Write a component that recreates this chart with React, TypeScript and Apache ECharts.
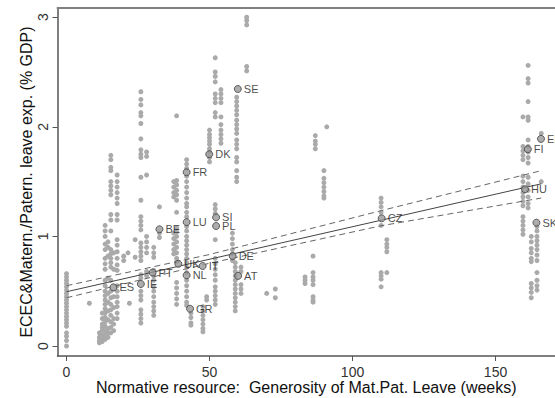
import React, { useEffect, useRef } from "react";
import * as echarts from "echarts";

const xTicks = [0, 50, 100, 150];
const yTicks = [0, 1, 2, 3];

const countryCodes = ["SE", "DK", "FR", "LU", "SI", "PL", "BE", "DE", "AT", "UK", "IT", "NL", "GR", "PT", "ES", "IE", "CZ", "FI", "EE", "HU", "SK"];
const countryX = [59.9, 49.9, 42.0, 42.0, 52.3, 52.3, 32.5, 58.1, 60.0, 39.1, 47.6, 42.0, 43.2, 30.1, 16.4, 26.0, 110.2, 161.3, 165.9, 160.3, 164.3];
const countryY = [2.345, 1.75, 1.585, 1.13, 1.174, 1.095, 1.065, 0.82, 0.64, 0.75, 0.73, 0.645, 0.34, 0.67, 0.535, 0.566, 1.165, 1.795, 1.89, 1.43, 1.125];

const fitX = [0, 166];
const fitY = [0.495, 1.48];
const ciX = [0, 50, 110, 166];
const ciUpper = [0.55, 0.835, 1.235, 1.6];
const ciLower = [0.44, 0.755, 1.097, 1.35];

const dotColumnX = [
  0, 8, 11.5, 12.5, 13.5, 14.5, 15.5, 16.5, 17.7, 20, 21.5, 22, 24,
  26, 28, 30.5, 32.5, 37.5, 38.5, 42, 43.5, 47.7, 49, 50, 52, 54, 58, 59, 59.5, 61, 63,
  70, 73, 83.4, 86.2, 87, 90, 91, 110, 112,
  159.6, 161.4, 162.5, 164.5, 166,
];
const dotColumnY = [
  [0.66, 0.63, 0.6, 0.57, 0.54, 0.51, 0.48, 0.45, 0.42, 0.39, 0.36, 0.33, 0.3, 0.27, 0.24, 0.21, 0.18, 0.12, 0.09, 0.05, 0.0],
  [0.39],
  [0.12, 0.08, 0.05, 0.03],
  [0.3, 0.25, 0.2, 0.17, 0.14, 0.1, 0.07, 0.04],
  [1.1, 1.05, 1.0, 0.93, 0.88, 0.8, 0.75, 0.7, 0.6, 0.55, 0.5, 0.46, 0.42, 0.38, 0.34, 0.3, 0.26, 0.22, 0.18, 0.14, 0.1, 0.06],
  [0.95, 0.9, 0.82, 0.62, 0.48, 0.4, 0.32, 0.24, 0.16, 0.12, 0.08],
  [1.74, 1.7, 1.63, 1.6, 1.5, 1.46, 1.42, 1.38, 1.2, 1.15, 1.05, 0.88, 0.84, 0.8, 0.76, 0.72, 0.6, 0.5, 0.44, 0.38, 0.33, 0.28, 0.22, 0.17, 0.12],
  [0.85, 0.7, 0.45, 0.35, 0.25, 0.2, 0.14],
  [1.56, 1.5, 1.45, 1.4, 1.35, 1.3, 1.2, 1.15, 0.97, 0.92, 0.86, 0.8, 0.74, 0.69, 0.55, 0.5, 0.45, 0.4, 0.36, 0.3, 0.25],
  [0.82, 0.78],
  [0.85],
  [0.39],
  [0.97, 0.81],
  [2.32, 2.25, 2.2, 2.13, 2.1, 2.03, 1.89, 1.79, 1.75, 1.72, 1.54, 1.33, 1.18, 1.14, 1.1, 1.06, 0.94, 0.9, 0.86, 0.82, 0.78, 0.65, 0.62, 0.5, 0.46, 0.42, 0.33, 0.29, 0.25, 0.21],
  [1.77, 1.73, 1.56, 1.0, 0.95, 0.9, 0.85, 0.68, 0.64],
  [0.9, 0.85, 0.81, 0.69, 0.64, 0.6, 0.54, 0.5, 0.45, 0.4, 0.36, 0.32, 0.28],
  [1.27, 1.03, 0.99],
  [1.5, 1.45, 1.4, 1.36, 1.03, 0.98, 0.93, 0.88, 0.84],
  [2.1, 1.51, 1.47, 1.42, 1.38, 1.33, 1.22, 1.08, 1.04, 1.0, 0.95, 0.9, 0.85, 0.8, 0.77, 0.58, 0.53, 0.48, 0.43, 0.38],
  [1.7, 1.66, 1.62, 1.55, 1.5, 1.45, 1.4, 1.35, 1.3, 1.27, 1.22, 1.18, 1.09, 1.05, 1.0, 0.96, 0.92, 0.88, 0.84, 0.8, 0.76, 0.72, 0.67, 0.6, 0.55, 0.5, 0.45, 0.4, 0.37],
  [0.3, 0.26, 0.21, 0.19],
  [0.36, 0.32, 0.28, 0.24, 0.2, 0.16, 0.13],
  [0.45, 0.42],
  [1.97, 1.93, 1.9, 1.87, 1.84, 1.8, 1.77, 1.72, 1.68],
  [2.63, 2.5, 2.46, 2.41, 2.3, 2.26, 2.22, 2.13, 2.09, 1.29, 1.25, 1.21, 0.97, 0.8, 0.75, 0.7, 0.65, 0.6, 0.54, 0.5, 0.46, 0.42, 0.38],
  [2.34, 2.3, 2.26, 2.22, 2.09, 2.02, 1.97, 1.93, 1.89, 1.85],
  [1.03, 0.98, 0.93, 0.88, 0.84, 0.78],
  [0.76, 0.72, 0.68, 0.64, 0.6, 0.56, 0.52, 0.48, 0.44, 0.4, 0.36, 0.32],
  [2.27, 2.23, 2.19, 2.15, 2.11, 2.06, 2.02, 1.98, 1.94, 1.88, 1.84, 1.8, 1.72, 1.68, 1.6, 1.54, 1.5],
  [0.72, 0.68, 0.56, 0.52, 0.48],
  [3.0, 2.97, 2.93, 2.55, 2.51],
  [0.48],
  [0.52, 0.44],
  [0.63, 0.6, 0.57],
  [0.82, 0.67, 0.63, 0.6, 0.56, 0.45, 0.42, 0.4],
  [1.92, 1.87, 1.84, 1.8],
  [1.6, 1.53, 1.49, 1.45, 1.41, 1.37, 1.35],
  [2.0],
  [1.35, 1.31, 1.27, 1.22, 1.1, 0.67, 0.64, 0.61, 0.54],
  [0.97, 0.93, 0.9, 0.86, 0.67],
  [2.09, 1.82, 1.78, 1.74, 1.7, 1.55, 1.5, 1.45, 1.4, 1.36, 1.32, 1.28, 1.18, 1.14, 1.1, 1.06, 1.02],
  [2.56, 2.44, 2.4, 2.23, 2.09, 2.06, 1.88, 1.82, 1.77, 1.72, 1.67, 1.54, 1.48, 1.42, 1.36, 1.3, 1.26],
  [1.0, 0.95, 0.89, 0.85, 0.8, 0.77, 0.57, 0.53, 0.49, 0.44],
  [1.09, 1.05, 1.0, 0.96, 0.92, 0.88, 0.83, 0.78, 0.67, 0.6, 0.55, 0.51],
  [1.94, 1.5],
];

const FONT = "Arial, 'Liberation Sans', sans-serif";

export default function App() {
  const ref = useRef<HTMLDivElement>(null);

  useEffect(() => {
    if (!ref.current) return;
    const chart = echarts.init(ref.current, undefined, { renderer: "svg" });

    const grayData: [number, number][] = [];
    dotColumnX.forEach((x, i) => {
      dotColumnY[i].forEach((y) => grayData.push([x, y]));
    });
    const countryData = countryCodes.map((c, i) => ({ name: c, value: [countryX[i], countryY[i]] }));
    const fitData = fitX.map((x, i) => [x, fitY[i]]);
    const upperData = ciX.map((x, i) => [x, ciUpper[i]]);
    const lowerData = ciX.map((x, i) => [x, ciLower[i]]);

    const axisLineStyle = { color: "#555", width: 1.5 };

    chart.setOption({
      animation: false,
      backgroundColor: "#ffffff",
      grid: { left: 57.5, right: 0, top: 8, bottom: 42, containLabel: false, outerBoundsMode: "none" },
      xAxis: [
        {
          type: "value",
          min: -3.15,
          max: 170.8,
          position: "bottom",
          name: "Normative resource:  Generosity of Mat.Pat. Leave (weeks)",
          nameLocation: "middle",
          nameGap: 23,
          nameMoveOverlap: false,
          nameTextStyle: { fontFamily: FONT, fontSize: 16, color: "#111", lineHeight: 17 },
          axisLine: { show: true, onZero: false, lineStyle: axisLineStyle },
          axisTick: { show: true, inside: false, length: 5, customValues: xTicks, lineStyle: { color: "#555" } },
          axisLabel: { show: true, customValues: xTicks, margin: 9, fontFamily: FONT, fontSize: 14, color: "#333" },
          splitLine: { show: false },
        },
        {
          type: "value",
          min: -3.15,
          max: 170.8,
          position: "top",
          axisLine: { show: true, onZero: false, lineStyle: { color: "#808080", width: 2 } },
          axisTick: { show: false },
          axisLabel: { show: false },
          splitLine: { show: false },
        },
      ],
      yAxis: {
        type: "value",
        min: -0.0912,
        max: 3.084,
        name: "ECEC&Matern./Patern. leave exp. (% GDP)",
        nameLocation: "middle",
        nameGap: 23,
        nameMoveOverlap: false,
        nameTextStyle: { fontFamily: FONT, fontSize: 16, color: "#111" },
        axisLine: { show: true, onZero: false, lineStyle: axisLineStyle },
        axisTick: { show: true, inside: false, length: 5, customValues: yTicks, lineStyle: { color: "#555" } },
        axisLabel: { show: true, customValues: yTicks, rotate: 90, margin: 8, fontFamily: FONT, fontSize: 14, color: "#333" },
        splitLine: { show: false },
      },
      series: [
        {
          type: "scatter",
          data: grayData,
          symbol: "circle",
          symbolSize: 5,
          itemStyle: { color: "#aaaaaa", opacity: 1 },
          silent: true,
          z: 1,
        },
        {
          type: "line",
          data: upperData,
          showSymbol: false,
          symbol: "none",
          lineStyle: { color: "#666", width: 1, type: [6, 4] },
          z: 2,
        },
        {
          type: "line",
          data: lowerData,
          showSymbol: false,
          symbol: "none",
          lineStyle: { color: "#666", width: 1, type: [6, 4] },
          z: 2,
        },
        {
          type: "line",
          data: fitData,
          showSymbol: false,
          symbol: "none",
          lineStyle: { color: "#444", width: 1 },
          z: 2,
        },
        {
          type: "scatter",
          data: countryData,
          symbol: "circle",
          symbolSize: 7,
          itemStyle: { color: "#999999", borderColor: "#404040", borderWidth: 1 },
          label: {
            show: true,
            position: "right",
            distance: 2,
            formatter: "{b}",
            fontFamily: FONT,
            fontSize: 11,
            color: "#1a1a1a",
          },
          z: 3,
        },
      ],
    });

    return () => chart.dispose();
  }, []);

  return (
    <div
      ref={ref}
      style={{ position: "fixed", left: 0, top: 0, width: 555, height: 398, background: "#fff" }}
    />
  );
}
